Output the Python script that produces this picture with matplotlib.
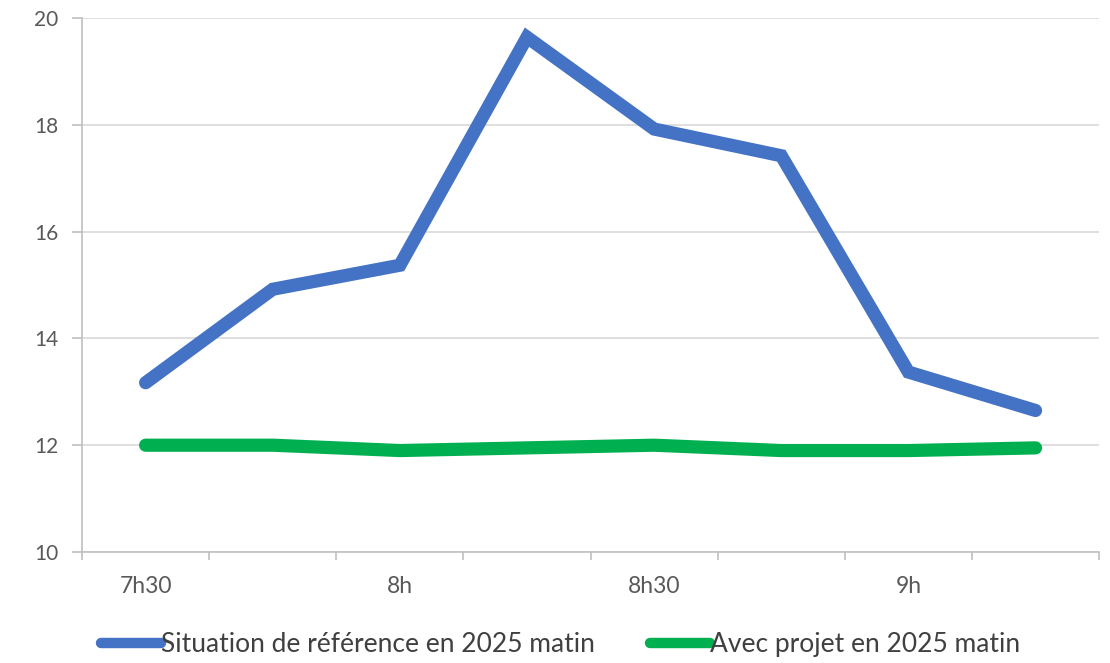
import matplotlib
matplotlib.use("Agg")
import matplotlib.pyplot as plt
from matplotlib.lines import Line2D

# Time slots (every quarter hour) and travel times
slots = ["7h30", "7h45", "8h", "8h15", "8h30", "8h45", "9h", "9h15"]
reference_2025 = [13.17, 14.92, 15.37, 19.64, 17.92, 17.42, 13.37, 12.65]
projet_2025 = [12.0, 12.0, 11.9, 11.95, 12.0, 11.9, 11.9, 11.95]

series_names = ["Situation de référence en 2025 matin", "Avec projet en 2025 matin"]
series_colors = ["#4472C4", "#00B050"]

y_ticks = [10, 12, 14, 16, 18, 20]

plt.rcParams["font.family"] = ["Lato", "DejaVu Sans"]

fig = plt.figure(figsize=(11.10, 6.63), dpi=100)
ax = fig.add_axes([0.0739, 0.1674, 0.9163, 0.8055])

x = list(range(len(slots)))
ax.plot(x, reference_2025, color=series_colors[0], lw=9.5,
        solid_capstyle="round", solid_joinstyle="miter", zorder=3)
ax.plot(x, projet_2025, color=series_colors[1], lw=9.5,
        solid_capstyle="round", solid_joinstyle="round", zorder=3)

ax.set_xlim(-0.5, len(slots) - 0.5)
ax.set_ylim(10, 20)

# y axis
ax.set_yticks(y_ticks)
ax.set_yticklabels([str(v) for v in y_ticks])
ax.yaxis.grid(True, color="#d9d9d9", lw=1.2)
ax.set_axisbelow(True)

# x axis: labels every other slot, tick marks on every category boundary
ax.set_xticks(x[::2])
ax.set_xticklabels(slots[::2])
ax.set_xticks([i - 0.5 for i in range(len(slots) + 1)], minor=True)
ax.tick_params(axis="x", which="major", length=0, pad=17, labelsize=16.5)
ax.tick_params(axis="x", which="minor", length=6, direction="out",
               color="#bfbfbf", width=1.2)
ax.tick_params(axis="y", length=7, direction="out", color="#bfbfbf",
               width=1.2, pad=10, labelsize=15)
ax.tick_params(labelcolor="#595959")

for side in ("top", "right"):
    ax.spines[side].set_visible(False)
for side in ("left", "bottom"):
    ax.spines[side].set_color("#bfbfbf")
    ax.spines[side].set_linewidth(1.2)

handles = [Line2D([0], [0], color=c, lw=7.5, solid_capstyle="round")
           for c in series_colors]
fig.legend(handles, series_names, loc="center", ncol=2,
           bbox_to_anchor=(0.505, 0.028), frameon=False,
           fontsize=19, labelcolor="#404040", handlelength=2.25,
           handletextpad=0.0, columnspacing=2.1)

fig.savefig("out.png", dpi=100)
